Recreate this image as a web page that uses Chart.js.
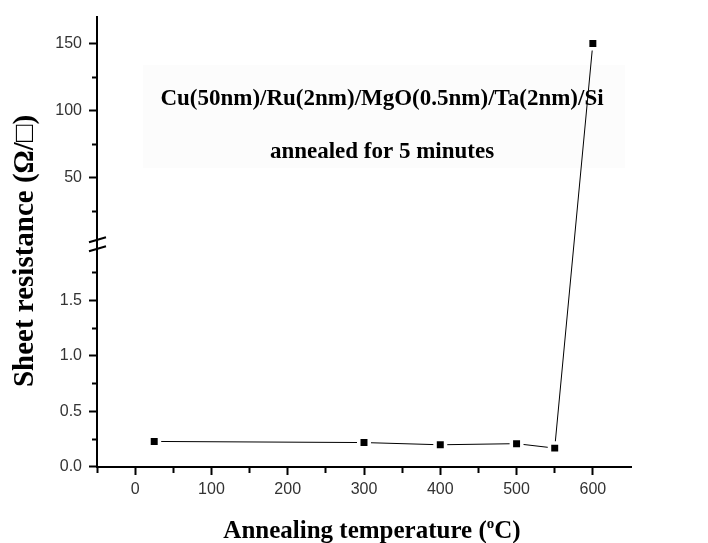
<!DOCTYPE html>
<html>
<head>
<meta charset="utf-8">
<script src="https://cdn.jsdelivr.net/npm/chart.js@4.4.0/dist/chart.umd.min.js"></script>
<style>
  html, body { margin: 0; padding: 0; background: #fff; }
</style>
</head>
<body>
<canvas id="chart" width="708" height="543"></canvas>
<script>
// data
const temperatures = [25, 300, 400, 500, 550, 600];
const resistance = [0.23, 0.22, 0.20, 0.21, 0.17, 150];
const breakAt = 2;

// axis ticks (majors get labels, the rest are minor ticks)
const xTicks = [-50, 0, 50, 100, 150, 200, 250, 300, 350, 400, 450, 500, 550, 600];
const xLabels = [0, 100, 200, 300, 400, 500, 600];
const lowTicks = [0, 0.25, 0.5, 0.75, 1, 1.25, 1.5, 1.75];
const lowLabels = [0, 0.5, 1, 1.5];
const highTicks = [25, 50, 75, 100, 125, 150];
const highLabels = [50, 100, 150];

const noteLines = ["Cu(50nm)/Ru(2nm)/MgO(0.5nm)/Ta(2nm)/Si", "annealed for 5 minutes"];
const yTitle = "Sheet resistance (\u03A9/\u25A1)";

const lowPoints = [];
const highPoints = [];
temperatures.forEach((t, i) => {
  const p = { x: t, y: resistance[i] };
  if (resistance[i] > breakAt) highPoints.push(p);
  else lowPoints.push(p);
});

const serif = '"Liberation Serif", "Times New Roman", serif';
const tickFont = { family: '"Liberation Sans", Arial, sans-serif', size: 16 };

// minor ticks: only the half next to the axis is drawn
function tickGrid(majors, minorDash) {
  return {
    drawOnChartArea: false,
    drawTicks: true,
    tickLength: 8,
    tickWidth: 2,
    tickColor: "#000",
    tickBorderDash: (ctx) => (ctx.tick && majors.includes(ctx.tick.value) ? [] : minorDash),
  };
}

const overlay = {
  id: "overlay",
  beforeDraw(chart) {
    const ctx = chart.ctx;
    ctx.save();
    ctx.fillStyle = "#fff";
    ctx.fillRect(0, 0, chart.width, chart.height);
    ctx.fillStyle = "#fcfcfc";
    ctx.fillRect(143, 65, 482, 103);
    ctx.restore();
  },
  beforeDatasetsDraw(chart) {
    // segment crossing the axis break
    const a = chart.getDatasetMeta(0).data;
    const b = chart.getDatasetMeta(1).data;
    if (!a.length || !b.length) return;
    const p = a[a.length - 1];
    const q = b[0];
    const ctx = chart.ctx;
    ctx.save();
    ctx.strokeStyle = "#000";
    ctx.lineWidth = 1;
    ctx.beginPath();
    ctx.moveTo(p.x, p.y);
    ctx.lineTo(q.x, q.y);
    ctx.stroke();
    ctx.restore();
  },
  afterDraw(chart) {
    const ctx = chart.ctx;
    const area = chart.chartArea;
    const yb = chart.scales.yLow.top;
    const x0 = area.left;
    ctx.save();
    // break marks
    ctx.strokeStyle = "#000";
    ctx.lineWidth = 2;
    [-5, 4].forEach((d) => {
      ctx.beginPath();
      ctx.moveTo(x0 - 8, yb + d + 2.5);
      ctx.lineTo(x0 + 9, yb + d - 2.5);
      ctx.stroke();
    });

    ctx.fillStyle = "#000";
    ctx.textAlign = "center";
    ctx.textBaseline = "middle";
    ctx.font = "bold 23px " + serif;
    ctx.fillText(noteLines[0], 382, 99);
    ctx.fillText(noteLines[1], 382, 152);

    // y title
    ctx.save();
    ctx.translate(26, 251);
    ctx.rotate(-Math.PI / 2);
    ctx.font = "bold 29px " + serif;
    ctx.fillText(yTitle, 0, 0);
    ctx.restore();

    // x title with superscript o
    const big = "bold 25px " + serif;
    const small = "bold 15px " + serif;
    const partA = "Annealing temperature (";
    const partB = "o";
    const partC = "C)";
    ctx.font = big;
    const wA = ctx.measureText(partA).width;
    const wC = ctx.measureText(partC).width;
    ctx.font = small;
    const wB = ctx.measureText(partB).width;
    const total = wA + wB + wC;
    let x = 372 - total / 2;
    const base = 538;
    ctx.textAlign = "left";
    ctx.textBaseline = "alphabetic";
    ctx.font = big;
    ctx.fillText(partA, x, base);
    x += wA;
    ctx.font = small;
    ctx.fillText(partB, x, base - 10);
    x += wB;
    ctx.font = big;
    ctx.fillText(partC, x, base);
    ctx.restore();
  },
};

new Chart(document.getElementById("chart"), {
  type: "line",
  data: {
    datasets: [
      {
        data: lowPoints,
        yAxisID: "yLow",
        borderColor: "#000",
        borderWidth: 1,
        pointStyle: "rect",
        pointRadius: 7.4,
        pointBackgroundColor: "#000",
        pointBorderColor: "#fff",
        pointBorderWidth: 3.5,
        tension: 0,
      },
      {
        data: highPoints,
        yAxisID: "yHigh",
        borderColor: "#000",
        borderWidth: 1,
        pointStyle: "rect",
        pointRadius: 7.4,
        pointBackgroundColor: "#000",
        pointBorderColor: "#fff",
        pointBorderWidth: 3.5,
      },
    ],
  },
  options: {
    responsive: false,
    animation: false,
    devicePixelRatio: 1,
    layout: { padding: { top: 15, right: 77, left: 0, bottom: 0 } },
    plugins: {
      legend: { display: false },
      tooltip: { enabled: false },
    },
    scales: {
      x: {
        type: "linear",
        min: -50,
        max: 650,
        border: { color: "#000", width: 2 },
        grid: tickGrid(xLabels, [5, 20]),
        afterBuildTicks: (s) => { s.ticks = xTicks.map((v) => ({ value: v })); },
        afterFit: (s) => { s.height = 76; },
        ticks: {
          autoSkip: false,
          maxRotation: 0,
          padding: 5,
          color: "#333",
          font: tickFont,
          callback: (v) => (xLabels.includes(v) ? String(v) : ""),
        },
      },
      yHigh: {
        type: "linear",
        position: "left",
        stack: "res",
        stackWeight: 229,
        weight: 2,
        min: 0,
        max: 170,
        border: { color: "#000", width: 2 },
        grid: tickGrid(highLabels, [0, 3, 6, 20]),
        afterBuildTicks: (s) => { s.ticks = highTicks.map((v) => ({ value: v })); },
        afterFit: (s) => { s.width = 97; },
        ticks: {
          autoSkip: false,
          padding: 7,
          color: "#333",
          font: tickFont,
          callback: (v) => (highLabels.includes(v) ? String(v) : ""),
        },
      },
      yLow: {
        type: "linear",
        position: "left",
        stack: "res",
        stackWeight: 223,
        weight: 1,
        min: 0,
        max: 2,
        border: { color: "#000", width: 2 },
        grid: tickGrid(lowLabels, [0, 3, 6, 20]),
        afterBuildTicks: (s) => { s.ticks = lowTicks.map((v) => ({ value: v })); },
        afterFit: (s) => { s.width = 97; },
        ticks: {
          autoSkip: false,
          padding: 7,
          color: "#333",
          font: tickFont,
          callback: (v) => (lowLabels.includes(v) ? v.toFixed(1) : ""),
        },
      },
    },
  },
  plugins: [overlay],
});
</script>
</body>
</html>
